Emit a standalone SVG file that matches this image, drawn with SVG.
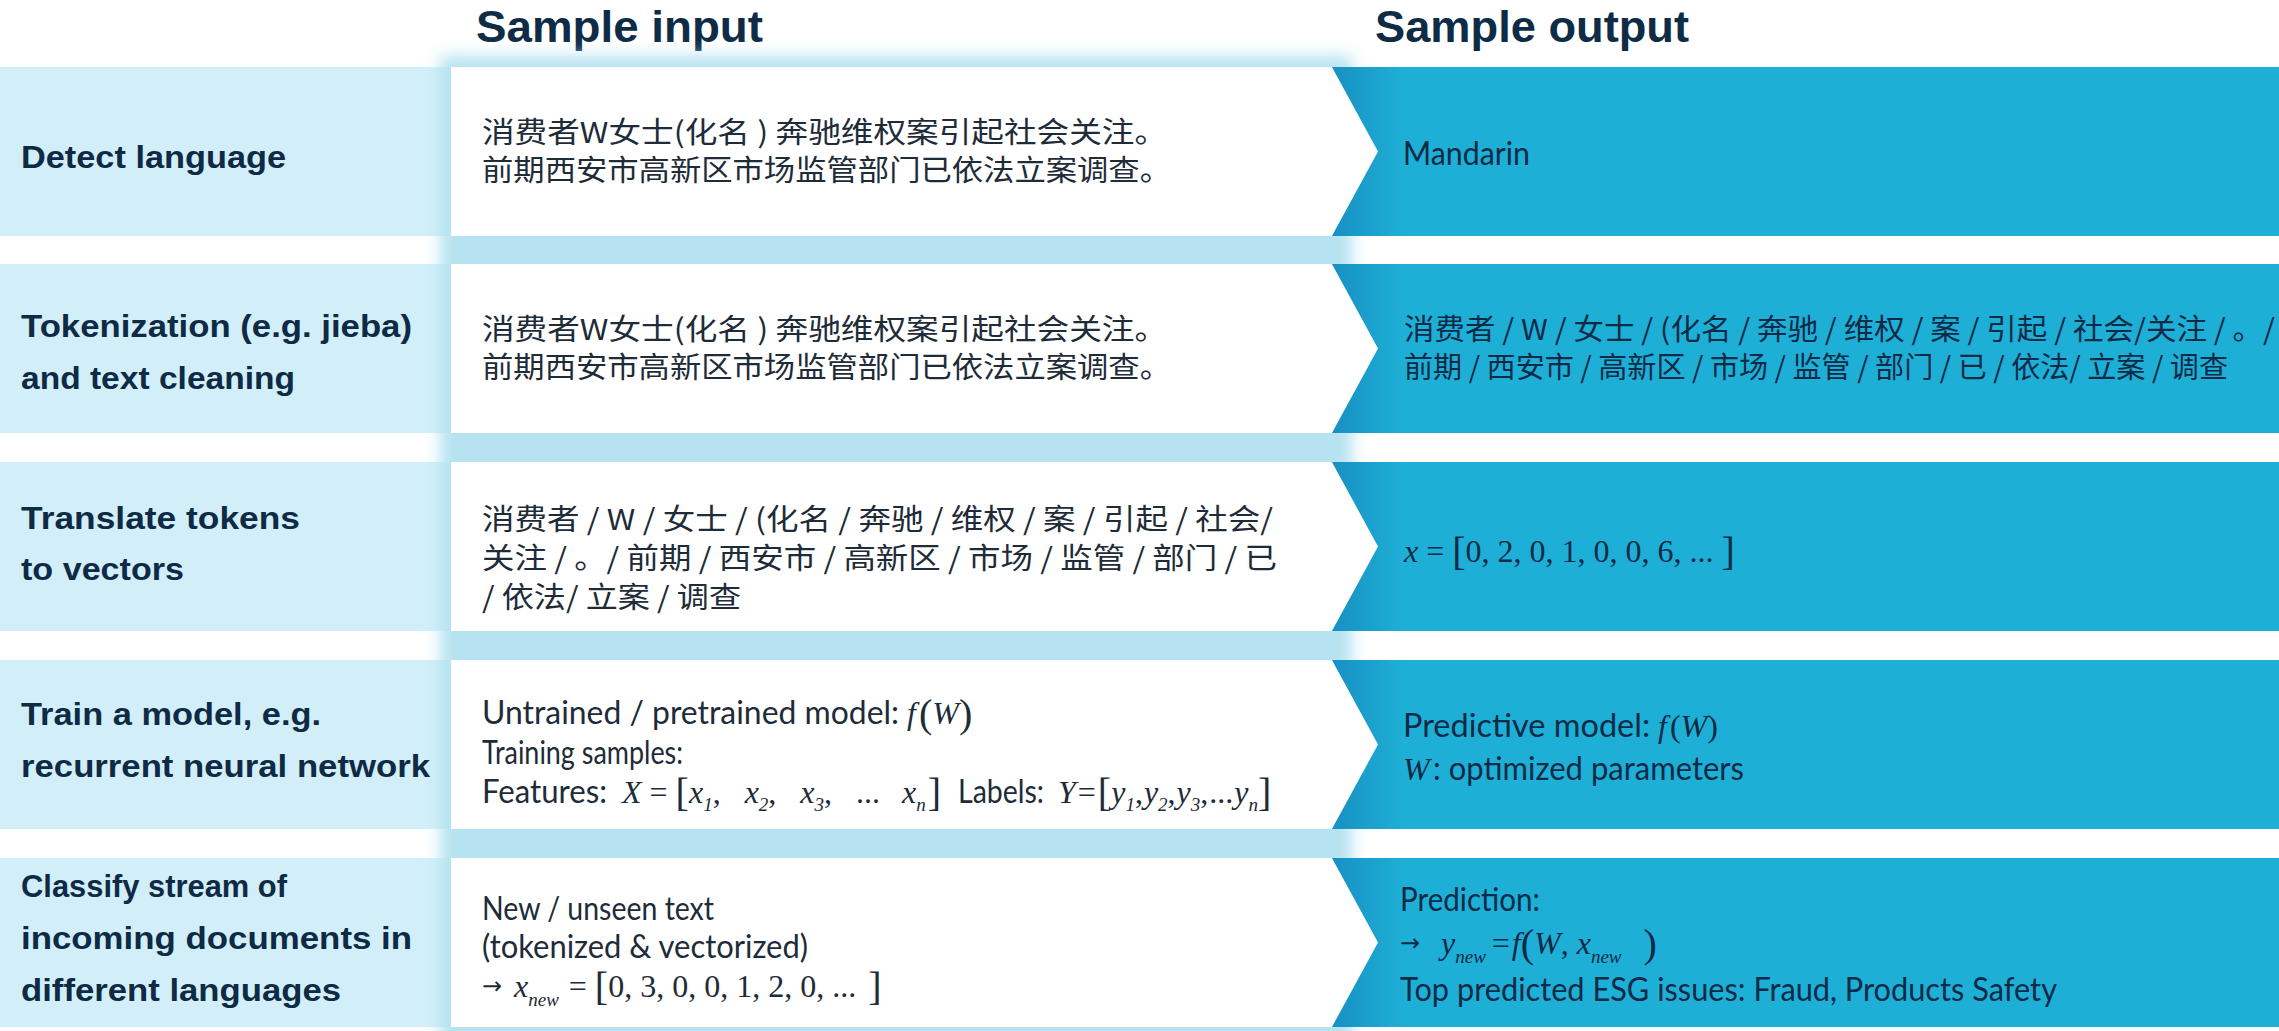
<svg xmlns="http://www.w3.org/2000/svg" width="2279" height="1031" viewBox="0 0 2279 1031">
<style>
.hdr{font-family:"Liberation Sans",Arial,sans-serif;font-weight:bold;font-size:45px;fill:#0f2c47}
.ttl{font-family:"Liberation Sans",Arial,sans-serif;font-weight:bold;font-size:32px;fill:#0e2a44}
.cjk{font-family:"Noto Sans CJK SC",sans-serif;font-size:29px;fill:#1e2b38}
.mid{font-family:Lato,"Open Sans",sans-serif;font-size:32px;fill:#1e2b38}
.out{font-family:Lato,"Open Sans",sans-serif;font-size:33px;fill:#0d2a47}
.cjko{font-family:"Noto Sans CJK SC",sans-serif;font-size:29px;fill:#0d2a47}
.arr{font-family:"DejaVu Sans",sans-serif;font-size:24px}
.m{font-family:"Liberation Serif",serif;font-size:32px}
.i{font-style:italic}
.sub{font-size:19px;font-style:italic}
.big{font-size:40px}
.dk{fill:#1e2b38}
.dko{fill:#0d2a47}
.leftbox{fill:#d2eff9}
.inbox{fill:#ffffff}
.outbox{fill:url(#blueGrad)}
</style>
<defs>
<filter id="glow" x="-10%" y="-10%" width="120%" height="120%">
<feGaussianBlur stdDeviation="8"/>
</filter>
<linearGradient id="blueGrad" x1="0" y1="0" x2="1" y2="0">
<stop offset="0" stop-color="#1790c3"/>
<stop offset="0.075" stop-color="#1eafd6"/>
<stop offset="1" stop-color="#1eafd6"/>
</linearGradient>
</defs>

<rect width="2279" height="1031" fill="#ffffff"/>

<g id="headers">
<text class="hdr" x="476" y="42" textLength="287" lengthAdjust="spacingAndGlyphs">Sample input</text>
<text class="hdr" x="1375" y="42" textLength="314" lengthAdjust="spacingAndGlyphs">Sample output</text>
</g>

<g id="left-column">
<rect class="leftbox" x="0" y="67" width="451" height="169"/>
<rect class="leftbox" x="0" y="264" width="451" height="169"/>
<rect class="leftbox" x="0" y="462" width="451" height="169"/>
<rect class="leftbox" x="0" y="660" width="451" height="169"/>
<rect class="leftbox" x="0" y="858" width="451" height="169"/>
</g>

<rect id="input-glow" x="440" y="56" width="912" height="1000" fill="#b6e2f1" filter="url(#glow)"/>

<g id="connectors"></g>

<g id="step1">
<text class="ttl" x="21" y="168" textLength="265" lengthAdjust="spacingAndGlyphs">Detect language</text>
<g id="step1-input">
<polygon class="inbox" points="451,67 1332,67 1378,151.5 1332,236 451,236"/>
<text class="cjk" x="482" y="143" textLength="685" lengthAdjust="spacingAndGlyphs">消费者W女士(化名 ) 奔驰维权案引起社会关注。</text>
<text class="cjk" x="482" y="181" textLength="689" lengthAdjust="spacingAndGlyphs">前期西安市高新区市场监管部门已依法立案调查。</text>
</g>
<g id="step1-output">
<polygon class="outbox" points="1332,67 2279,67 2279,236 1332,236 1378,151.5"/>
<text class="out" x="1403" y="165" textLength="127" lengthAdjust="spacingAndGlyphs">Mandarin</text>
</g>
</g>

<g id="step2">
<text class="ttl" x="21" y="337" textLength="391" lengthAdjust="spacingAndGlyphs">Tokenization (e.g. jieba)</text>
<text class="ttl" x="21" y="389" textLength="274" lengthAdjust="spacingAndGlyphs">and text cleaning</text>
<g id="step2-input">
<polygon class="inbox" points="451,264 1332,264 1378,348.5 1332,433 451,433"/>
<text class="cjk" x="482" y="340" textLength="685" lengthAdjust="spacingAndGlyphs">消费者W女士(化名 ) 奔驰维权案引起社会关注。</text>
<text class="cjk" x="482" y="378" textLength="689" lengthAdjust="spacingAndGlyphs">前期西安市高新区市场监管部门已依法立案调查。</text>
</g>
<g id="step2-output">
<polygon class="outbox" points="1332,264 2279,264 2279,433 1332,433 1378,348.5"/>
<text class="cjko" x="1404" y="340" textLength="871" lengthAdjust="spacingAndGlyphs">消费者 / W / 女士 / (化名 / 奔驰 / 维权 / 案 / 引起 / 社会/关注 / 。/</text>
<text class="cjko" x="1404" y="378" textLength="824" lengthAdjust="spacingAndGlyphs">前期 / 西安市 / 高新区 / 市场 / 监管 / 部门 / 已 / 依法/ 立案 / 调查</text>
</g>
</g>

<g id="step3">
<text class="ttl" x="21" y="529" textLength="279" lengthAdjust="spacingAndGlyphs">Translate tokens</text>
<text class="ttl" x="21" y="580" textLength="163" lengthAdjust="spacingAndGlyphs">to vectors</text>
<g id="step3-input">
<polygon class="inbox" points="451,462 1332,462 1378,546.5 1332,631 451,631"/>
<text class="cjk" x="482" y="530" textLength="791" lengthAdjust="spacingAndGlyphs">消费者 / W / 女士 / (化名 / 奔驰 / 维权 / 案 / 引起 / 社会/</text>
<text class="cjk" x="482" y="569" textLength="795" lengthAdjust="spacingAndGlyphs">关注 / 。/ 前期 / 西安市 / 高新区 / 市场 / 监管 / 部门 / 已</text>
<text class="cjk" x="482" y="608" textLength="259" lengthAdjust="spacingAndGlyphs">/ 依法/ 立案 / 调查</text>
</g>
<g id="step3-output">
<polygon class="outbox" points="1332,462 2279,462 2279,631 1332,631 1378,546.5"/>
<text class="m dko" x="1404" y="562" font-size="31"><tspan class="i">x</tspan> = <tspan class="big" dy="3">[</tspan><tspan dy="-3">0, 2, 0, 1, 0, 0, 6, ... </tspan><tspan class="big" dy="3">]</tspan></text>
</g>
</g>

<g id="step4">
<text class="ttl" x="21" y="725" textLength="300" lengthAdjust="spacingAndGlyphs">Train a model, e.g.</text>
<text class="ttl" x="21" y="777" textLength="409" lengthAdjust="spacingAndGlyphs">recurrent neural network</text>
<g id="step4-input">
<polygon class="inbox" points="451,660 1332,660 1378,744.5 1332,829 451,829"/>
<text class="mid" y="724"><tspan x="482" textLength="417" lengthAdjust="spacingAndGlyphs">Untrained / pretrained model:</tspan><tspan class="m i" x="907">f</tspan><tspan class="m big" dx="3" dy="3">(</tspan><tspan class="m i" dy="-3">W</tspan><tspan class="m big" dy="3">)</tspan></text>
<text class="mid" x="482" y="764" textLength="201" lengthAdjust="spacingAndGlyphs">Training samples:</text>
<text class="mid" y="803"><tspan x="482" textLength="125" lengthAdjust="spacingAndGlyphs">Features:</tspan><tspan class="m i" x="622">X</tspan><tspan class="m" dx="8">=</tspan><tspan class="m big" dx="8" dy="3">[</tspan><tspan class="m i" dy="-3">x</tspan><tspan class="m sub" dy="8">1</tspan><tspan class="m" dy="-8">,</tspan><tspan class="m i" dx="24">x</tspan><tspan class="m sub" dy="8">2</tspan><tspan class="m" dy="-8">,</tspan><tspan class="m i" dx="24">x</tspan><tspan class="m sub" dy="8">3</tspan><tspan class="m" dy="-8">,</tspan><tspan class="m" dx="24">...</tspan><tspan class="m i" dx="22">x</tspan><tspan class="m sub" dy="8">n</tspan><tspan class="m big" dx="2" dy="-5">]</tspan><tspan x="958" dy="-3" textLength="86" lengthAdjust="spacingAndGlyphs">Labels:</tspan><tspan class="m i" x="1058">Y</tspan><tspan class="m" dx="2">=</tspan><tspan class="m big" dx="2" dy="3">[</tspan><tspan class="m i" dy="-3">y</tspan><tspan class="m sub" dy="8">1</tspan><tspan class="m" dy="-8">,</tspan><tspan class="m i" dx="1">y</tspan><tspan class="m sub" dy="8">2</tspan><tspan class="m" dy="-8">,</tspan><tspan class="m i" dx="1">y</tspan><tspan class="m sub" dy="8">3</tspan><tspan class="m" dy="-8">,</tspan><tspan class="m" dx="1">...</tspan><tspan class="m i" dx="1">y</tspan><tspan class="m sub" dy="8">n</tspan><tspan class="m big" dy="-5">]</tspan></text>
</g>
<g id="step4-output">
<polygon class="outbox" points="1332,660 2279,660 2279,829 1332,829 1378,744.5"/>
<text class="out" y="737"><tspan x="1403" textLength="247" lengthAdjust="spacingAndGlyphs">Predictive model:</tspan><tspan class="m i" x="1658">f</tspan><tspan class="m" font-size="38" dx="3">(</tspan><tspan class="m i">W</tspan><tspan class="m" font-size="38">)</tspan></text>
<text class="out" y="780"><tspan class="m i" x="1403">W</tspan><tspan x="1433" textLength="311" lengthAdjust="spacingAndGlyphs">: optimized parameters</tspan></text>
</g>
</g>

<g id="step5">
<text class="ttl" x="21" y="897" textLength="266" lengthAdjust="spacingAndGlyphs">Classify stream of</text>
<text class="ttl" x="21" y="949" textLength="391" lengthAdjust="spacingAndGlyphs">incoming documents in</text>
<text class="ttl" x="21" y="1001" textLength="320" lengthAdjust="spacingAndGlyphs">different languages</text>
<g id="step5-input">
<polygon class="inbox" points="451,858 1332,858 1378,942.5 1332,1027 451,1027"/>
<text class="mid" x="482" y="920" textLength="232" lengthAdjust="spacingAndGlyphs">New / unseen text</text>
<text class="mid" x="482" y="958" textLength="326" lengthAdjust="spacingAndGlyphs">(tokenized &amp; vectorized)</text>
<text class="m dk" y="997"><tspan class="arr" x="482" dy="-3">→</tspan><tspan class="i" x="514" dy="3">x</tspan><tspan class="sub" dy="9">new</tspan><tspan dx="10" dy="-9">=</tspan><tspan class="big" dx="8" dy="3">[</tspan><tspan dy="-3">0, 3, 0, 0, 1, 2, 0, ... </tspan><tspan class="big" dx="4" dy="3">]</tspan></text>
</g>
<g id="step5-output">
<polygon class="outbox" points="1332,858 2279,858 2279,1027 1332,1027 1378,942.5"/>
<text class="out" x="1400" y="911" textLength="140" lengthAdjust="spacingAndGlyphs">Prediction:</text>
<text class="m dko" y="954"><tspan class="arr" x="1400" dy="-3">→</tspan><tspan class="i" x="1441" dy="3">y</tspan><tspan class="sub" dy="9">new</tspan><tspan dx="6" dy="-9">=</tspan><tspan class="i" dx="2">f</tspan><tspan class="big" dy="3">(</tspan><tspan class="i" dy="-3">W</tspan>, <tspan class="i">x</tspan><tspan class="sub" dy="9">new</tspan><tspan class="big" dx="22" dy="-6">)</tspan></text>
<text class="out" x="1400" y="1001" textLength="657" lengthAdjust="spacingAndGlyphs">Top predicted ESG issues: Fraud, Products Safety</text>
</g>
</g>
</svg>
